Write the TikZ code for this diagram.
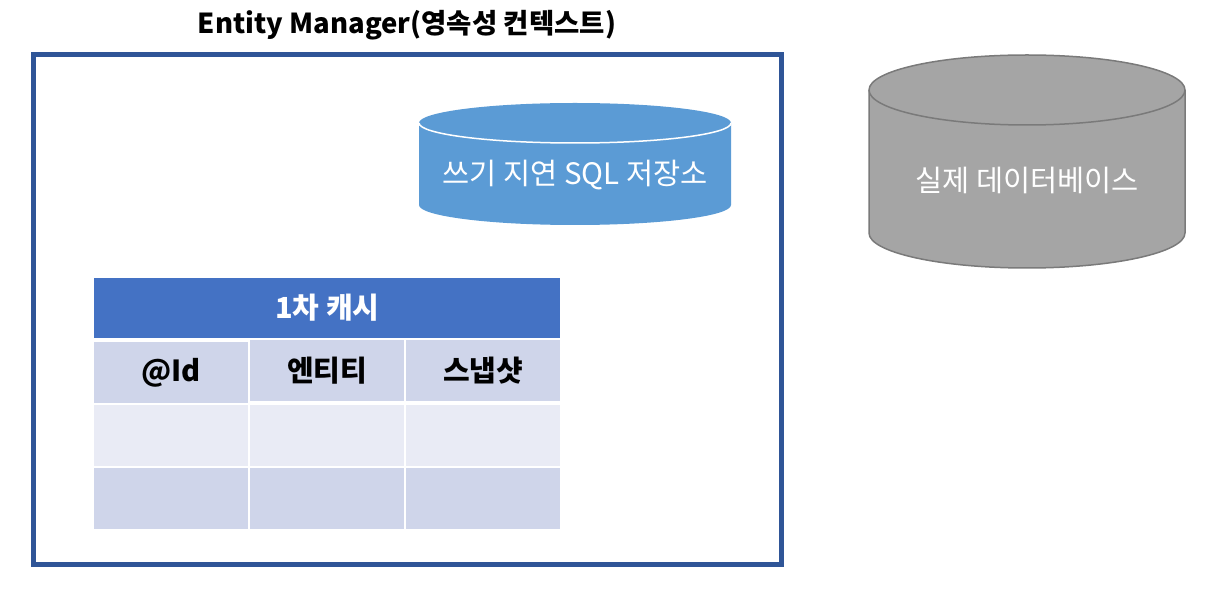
\documentclass[tikz,border=0pt]{standalone}
\usepackage{fontspec}
\setmainfont{Noto Sans CJK KR}
\usepackage{xcolor}
\usepackage{tikz}
\usetikzlibrary{matrix,positioning}

\definecolor{emframe}{HTML}{2F5597}
\definecolor{bufblue}{HTML}{5B9BD5}
\definecolor{dbgray}{HTML}{A5A5A5}
\definecolor{dbedge}{HTML}{7A7A7A}
\definecolor{cachehead}{HTML}{4472C4}
\definecolor{rowdark}{HTML}{CFD5EA}
\definecolor{rowlight}{HTML}{E9EBF5}

\begin{document}
\begin{tikzpicture}[x=1pt,y=1pt,
        cell/.style={minimum width=154pt,minimum height=61pt,inner sep=0pt,fill=rowdark,font=\fontsize{29}{34}\selectfont\bfseries},
        cyltext/.style={text=white,font=\fontsize{29.5}{34}\selectfont}]
    \useasboundingbox (0,0) rectangle (1219,-593);
    % persistence context box
    \node[draw=emframe,line width=5pt,minimum width=748pt,minimum height=509.5pt,inner sep=0pt] (em) at (407.5,-309.75) {};
    \node[font=\fontsize{27.5}{32}\selectfont\bfseries] (title) at (407,-25) {Entity Manager(영속성 컨텍스트)};

    % write-behind SQL store
    \fill[bufblue] (419,-123) -- (419,-205) arc[start angle=180,end angle=360,x radius=156,y radius=20]
        -- (731,-123) arc[start angle=0,end angle=180,x radius=156,y radius=20] -- cycle;
    \draw[white,line width=1.5pt] (419,-123) arc[start angle=180,end angle=360,x radius=156,y radius=20];
    \node[cyltext] (sqlbuf) at (575,-175) {쓰기 지연 SQL 저장소};

    % real database
    \filldraw[fill=dbgray,draw=dbedge,line width=1.5pt] (869,-90) -- (869,-233) arc[start angle=180,end angle=360,x radius=158,y radius=35]
        -- (1185,-90) arc[start angle=0,end angle=180,x radius=158,y radius=35] -- cycle;
    \draw[dbedge,line width=1.5pt] (869,-90) arc[start angle=180,end angle=360,x radius=158,y radius=35];
    \node[cyltext] (realdb) at (1027,-180) {실제 데이터베이스};

    % first level cache
    \matrix[matrix of nodes,nodes={cell},nodes in empty cells,column sep=2pt,row sep=2pt,inner sep=0pt,
            anchor=north west,row 2/.style={nodes={fill=rowlight}}] (cache) at (94,-340)
    {
        @Id & 엔티티 & 스냅샷 \\
            &        &        \\
            &        &        \\
    };
    \node[fill=cachehead,text=white,minimum width=466pt,minimum height=60pt,inner sep=0pt,
          font=\fontsize{29}{34}\selectfont\bfseries,above=2pt of cache] (head) {1차 캐시};
\end{tikzpicture}
\end{document}
